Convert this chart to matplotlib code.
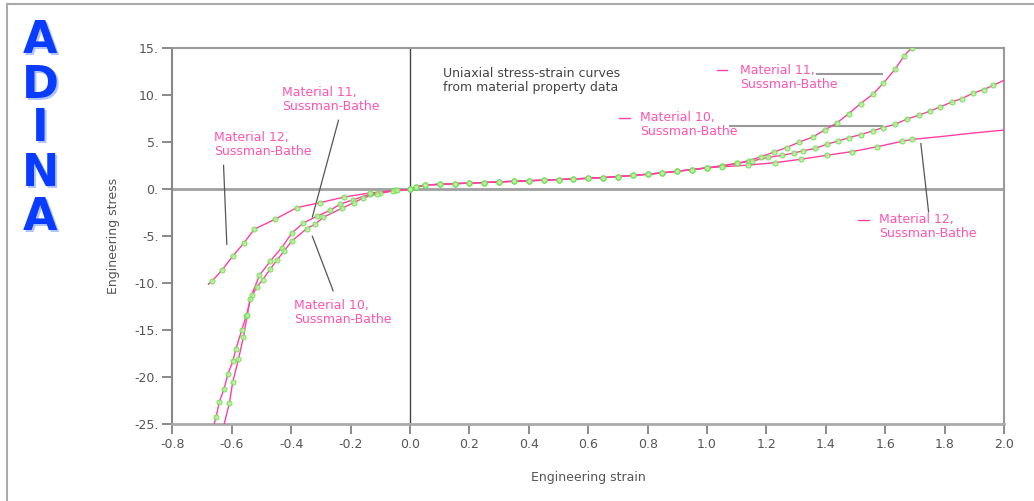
import numpy as np
import matplotlib.pyplot as plt
from matplotlib.transforms import offset_copy

# strain / stress values
# shared tension branch (all three materials overlap here)
common_x = [0.0, 0.02, 0.05, 0.1, 0.15, 0.2, 0.25, 0.3, 0.35, 0.4, 0.45, 0.5,
            0.55, 0.6, 0.65, 0.7, 0.75, 0.8, 0.85, 0.9, 0.95, 1.0]
common_y = [0.0, 0.25, 0.45, 0.53, 0.6, 0.66, 0.72, 0.79, 0.85, 0.91, 0.97, 1.04,
            1.1, 1.17, 1.25, 1.35, 1.48, 1.6, 1.75, 1.92, 2.1, 2.28]

m11_neg_x = [-0.66, -0.653, -0.642, -0.626, -0.614, -0.597, -0.586, -0.567, -0.552,
             -0.533, -0.507, -0.471, -0.432, -0.398, -0.359, -0.314, -0.269, -0.236,
             -0.191, -0.135, -0.101, -0.05]
m11_neg_y = [-25.0, -24.2, -22.6, -21.2, -19.7, -18.3, -16.95, -15.0, -13.5,
             -11.2, -9.15, -7.66, -6.2, -4.65, -3.58, -2.87, -2.23, -1.6,
             -1.1, -0.53, -0.35, -0.12]
m11_pos_x = [1.05, 1.1, 1.14, 1.181, 1.226, 1.268, 1.311, 1.356, 1.396, 1.437, 1.477,
             1.517, 1.558, 1.594, 1.633, 1.664, 1.689, 1.72]
m11_pos_y = [2.5, 2.75, 3.05, 3.46, 3.97, 4.44, 5.03, 5.56, 6.3, 7.05, 8.05,
             9.12, 10.1, 11.3, 12.77, 14.2, 15.07, 16.3]

m10_neg_x = [-0.626, -0.608, -0.597, -0.578, -0.561, -0.548, -0.539, -0.516, -0.496,
             -0.471, -0.447, -0.424, -0.398, -0.348, -0.32, -0.292, -0.23, -0.189,
             -0.157, -0.112, -0.057]
m10_neg_y = [-25.0, -22.7, -20.5, -18.1, -15.7, -13.4, -11.7, -10.4, -9.61,
             -8.51, -7.48, -6.56, -5.5, -4.18, -3.72, -2.98, -2.02, -1.43,
             -0.9, -0.5, -0.18]
m10_pos_x = [1.05, 1.1, 1.15, 1.206, 1.252, 1.293, 1.324, 1.364, 1.403, 1.442, 1.479,
             1.517, 1.558, 1.591, 1.633, 1.674, 1.715, 1.751, 1.785, 1.824, 1.858,
             1.897, 1.931, 1.964, 2.0]
m10_pos_y = [2.5, 2.75, 3.0, 3.39, 3.62, 3.86, 4.1, 4.35, 4.79, 5.14, 5.5,
             5.82, 6.2, 6.56, 6.91, 7.48, 7.9, 8.33, 8.76, 9.29, 9.65,
             10.24, 10.6, 11.06, 11.6]

m12_neg_x = [-0.679, -0.666, -0.632, -0.597, -0.559, -0.525, -0.455, -0.381, -0.303,
             -0.221, -0.135, -0.045]
m12_neg_y = [-10.1, -9.75, -8.55, -7.1, -5.7, -4.26, -3.19, -1.95, -1.42,
             -0.82, -0.39, -0.1]
m12_pos_x = [1.049, 1.139, 1.229, 1.315, 1.403, 1.487, 1.573, 1.656, 1.689, 1.8, 1.9, 2.0]
m12_pos_y = [2.4, 2.57, 2.83, 3.19, 3.62, 4.0, 4.53, 5.1, 5.3, 5.65, 6.0, 6.3]

x_ticks = [-0.8, -0.6, -0.4, -0.2, 0.0, 0.2, 0.4, 0.6, 0.8, 1.0, 1.2, 1.4, 1.6, 1.8, 2.0]
y_ticks = [-25, -20, -15, -10, -5, 0, 5, 10, 15]

PINK = '#ff3fa3'
TXT_PINK = '#ff55b0'
GRAY = '#555555'

fig = plt.figure(figsize=(10.34, 5.01), dpi=100)
ax = fig.add_axes([0.1668, 0.1531, 0.8042, 0.7505])

# zero lines
ax.axhline(0, color='#a0a0a0', lw=2, zorder=1)
ax.axvline(0, color='#444444', lw=1, zorder=1)

curves = [
    (m11_neg_x + common_x + m11_pos_x, m11_neg_y + common_y + m11_pos_y, 1, 1),
    (m10_neg_x + common_x + m10_pos_x, m10_neg_y + common_y + m10_pos_y, 1, 1),
    (m12_neg_x + common_x + m12_pos_x, m12_neg_y + common_y + m12_pos_y, 1, 3),
]
for cx, cy, skip0, skip1 in curves:
    ax.plot(cx, cy, color=PINK, lw=1.0, zorder=3)
    ax.plot(cx[skip0:len(cx) - skip1], cy[skip0:len(cy) - skip1], ls='none',
            marker='o', ms=3.6, mfc='#b4f59a', mec='#72dc55', mew=0.8,
            alpha=0.85, zorder=4)

ax.set_xlim(-0.8, 2.0)
ax.set_ylim(-25, 15)
ax.set_xticks(x_ticks)
ax.set_xticklabels([f'{v:.1f}' for v in x_ticks])
ax.set_yticks(y_ticks)
ax.set_yticklabels([f'{v}.' for v in y_ticks])
ax.tick_params(direction='out', length=7, width=1.2, color='#777777',
               labelsize=9, labelcolor='#555555', pad=3)

for side in ['top', 'right']:
    ax.spines[side].set_color('#999999')
    ax.spines[side].set_linewidth(1.5)
ax.spines['left'].set_color('#888888')
ax.spines['left'].set_linewidth(1.5)
ax.spines['bottom'].set_color('#aaaaaa')
ax.spines['bottom'].set_linewidth(2)

ax.set_xlabel('Engineering strain', fontsize=9, color='#555555', labelpad=14)
ax.set_ylabel('Engineering stress', fontsize=9, color='#555555', labelpad=10)

# annotations
ax.text(0.11, 13.0, 'Uniaxial stress-strain curves\nfrom material property data',
        fontsize=9, color='#444444', va='top', linespacing=1.1)

lab = 'Material {},\nSussman-Bathe'
ax.text(-0.43, 11.0, lab.format(11), fontsize=9, color=TXT_PINK, va='top', linespacing=1.1)
ax.text(-0.66, 6.2, lab.format(12), fontsize=9, color=TXT_PINK, va='top', linespacing=1.1)
ax.text(-0.39, -11.7, lab.format(10), fontsize=9, color=TXT_PINK, va='top', linespacing=1.1)
ax.text(1.11, 13.3, lab.format(11), fontsize=9, color=TXT_PINK, va='top', linespacing=1.1)
ax.text(0.775, 8.3, lab.format(10), fontsize=9, color=TXT_PINK, va='top', linespacing=1.1)
ax.text(1.58, -2.5, lab.format(12), fontsize=9, color=TXT_PINK, va='top', linespacing=1.1)

# leader lines
ax.plot([-0.241, -0.329], [7.34, -2.95], color=GRAY, lw=0.9)
ax.plot([-0.628, -0.617], [2.55, -5.85], color=GRAY, lw=0.9)
ax.plot([-0.329, -0.259], [-5.0, -10.8], color=GRAY, lw=0.9)
ax.plot([1.37, 1.59], [12.23, 12.23], color='#999999', lw=1.5)
ax.plot([1.076, 1.59], [6.73, 6.73], color='#999999', lw=1.5)
ax.plot([1.72, 1.746], [4.86, -2.41], color=GRAY, lw=0.9)
# short pink dashes in front of right labels
ax.plot([1.034, 1.066], [12.66, 12.66], color=PINK, lw=1)
ax.plot([0.705, 0.74], [7.63, 7.63], color=PINK, lw=1)
ax.plot([1.51, 1.545], [-3.3, -3.3], color=PINK, lw=1)

# ADINA logo
for i, ch in enumerate('ADINA'):
    yy = 1 - (41 + i * 44) / 501
    shadow = offset_copy(fig.transFigure, fig=fig, x=2, y=-2, units='dots')
    fig.text(40 / 1034, yy, ch, transform=shadow, fontsize=32, fontweight='bold',
             color='#b0c4ff', ha='center', va='center')
    fig.text(40 / 1034, yy, ch, fontsize=32, fontweight='bold',
             color='#0a3cff', ha='center', va='center')

# outer frame (left + top)
fig.add_artist(plt.Line2D([0.0068, 0.0068], [0.0, 0.992], color='#aaaaaa', lw=1.5))
fig.add_artist(plt.Line2D([0.0068, 1.0], [0.992, 0.992], color='#aaaaaa', lw=1.5))

fig.savefig('out.png', dpi=100)
